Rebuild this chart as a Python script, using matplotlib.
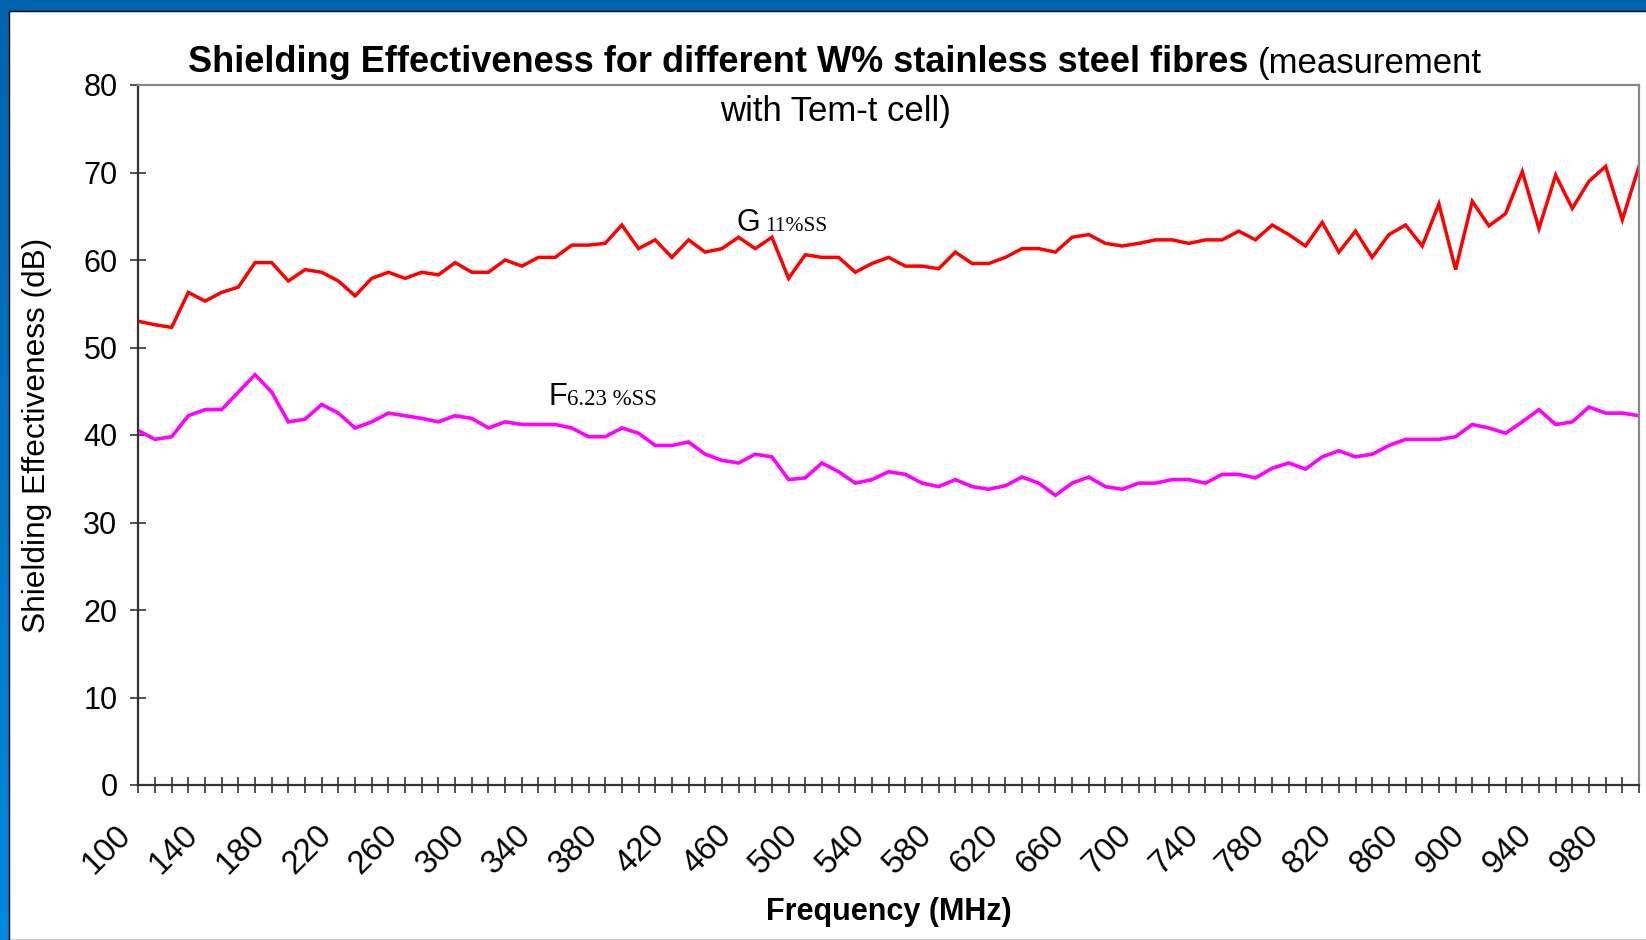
import numpy as np
import matplotlib
matplotlib.use('Agg')
import matplotlib.pyplot as plt
import matplotlib.transforms as mtransforms
from matplotlib.patches import Rectangle

plt.rcParams['font.family'] = ['Liberation Sans', 'DejaVu Sans']

W, H = 1646, 940

# frequency categories (MHz), one point every 10 MHz
freq = list(range(100, 1001, 10))

# G 11%SS
g_11 = [53.0, 52.6, 52.3, 56.3, 55.3, 56.3, 56.9, 59.7, 59.7, 57.6,
        58.9, 58.6, 57.6, 55.9, 57.9, 58.6, 57.9, 58.6, 58.3, 59.7,
        58.6, 58.6, 60.0, 59.3, 60.3, 60.3, 61.7, 61.7, 61.9, 64.0,
        61.3, 62.3, 60.3, 62.3, 60.9, 61.3, 62.6, 61.3, 62.6, 57.9,
        60.6, 60.3, 60.3, 58.6, 59.6, 60.3, 59.3, 59.3, 59.0, 60.9,
        59.6, 59.6, 60.3, 61.3, 61.3, 60.9, 62.6, 62.9, 61.9, 61.6,
        61.9, 62.3, 62.3, 61.9, 62.3, 62.3, 63.3, 62.3, 64.0, 62.9,
        61.6, 64.3, 60.9, 63.3, 60.3, 62.9, 64.0, 61.6, 66.4, 58.9,
        66.7, 63.9, 65.3, 70.1, 63.6, 69.7, 65.9, 69.0, 70.7, 64.6,
        70.7]

# F 6.23 %SS
f_623 = [40.5, 39.5, 39.8, 42.2, 42.9, 42.9, 44.9, 46.9, 44.9, 41.5,
         41.8, 43.5, 42.5, 40.8, 41.5, 42.5, 42.2, 41.9, 41.5, 42.2,
         41.9, 40.8, 41.5, 41.2, 41.2, 41.2, 40.8, 39.8, 39.8, 40.8,
         40.2, 38.8, 38.8, 39.2, 37.8, 37.1, 36.8, 37.8, 37.5, 34.9,
         35.1, 36.8, 35.8, 34.5, 34.9, 35.8, 35.5, 34.5, 34.1, 34.9,
         34.1, 33.8, 34.2, 35.2, 34.5, 33.1, 34.5, 35.2, 34.1, 33.8,
         34.5, 34.5, 34.9, 34.9, 34.5, 35.5, 35.5, 35.1, 36.2, 36.8,
         36.1, 37.5, 38.2, 37.5, 37.8, 38.8, 39.5, 39.5, 39.5, 39.8,
         41.2, 40.8, 40.2, 41.5, 42.9, 41.2, 41.5, 43.2, 42.5, 42.5,
         42.2]

y_ticks = [0, 10, 20, 30, 40, 50, 60, 70, 80]

fig = plt.figure(figsize=(W / 100, H / 100), dpi=100)

# blue slide background with a white panel
bg = fig.add_axes([0, 0, 1, 1])
grad = np.linspace(0, 1, 256).reshape(-1, 1)
cmap = matplotlib.colors.LinearSegmentedColormap.from_list('b', ['#0088e0', '#0063ad'])
bg.imshow(grad, cmap=cmap, aspect='auto', extent=[0, 1, 0, 1], origin='lower')
bg.add_patch(Rectangle((9 / W, 0), 1, (H - 11) / H, transform=bg.transAxes,
                       facecolor='white', edgecolor='black', lw=1.0))
bg.set_xlim(0, 1)
bg.set_ylim(0, 1)
bg.axis('off')

ax = fig.add_axes([138.3 / W, 1 - 785 / H, (1639 - 138.3) / W, 700 / H])
ax.set_facecolor('white')
ax.plot(freq, g_11, color='#ff0000', lw=2.5, solid_joinstyle='miter')
ax.plot(freq, f_623, color='#ff00ff', lw=2.6, solid_joinstyle='miter')

ax.set_xlim(freq[0], freq[-1])
ax.set_ylim(0, 80)
ax.set_yticks(y_ticks)
ax.set_xticks(freq)
ax.set_xticklabels([str(f) if (f - 100) % 40 == 0 else '' for f in freq])

for side in ['left', 'bottom']:
    ax.spines[side].set_color('#333333')
    ax.spines[side].set_linewidth(1.6)
for side in ['top', 'right']:
    ax.spines[side].set_color('#888888')
    ax.spines[side].set_linewidth(1.6)

ax.tick_params(axis='both', direction='inout', length=12, width=1.1, color='#222222')
ax.tick_params(axis='y', labelsize=22, pad=9)
ax.tick_params(axis='x', labelsize=23.5, pad=27)
shift = mtransforms.ScaledTranslation(-12 / 100, 0, fig.dpi_scale_trans)
for lbl in ax.get_xticklabels():
    lbl.set_rotation(45)
    lbl.set_ha('right')
    lbl.set_va('center')
    lbl.set_rotation_mode('anchor')
    lbl.set_transform(lbl.get_transform() + shift)

ax.set_ylabel('Shielding Effectiveness (dB)', fontsize=22.8)
ax.yaxis.label.set_va('center')
ax.yaxis.set_label_coords((37 - 138.3) / 1500.7, 0.5)
ax.set_xlabel('Frequency (MHz)', fontsize=22, fontweight='bold')
ax.xaxis.label.set_va('center')
ax.xaxis.set_label_coords(0.5, (785 - 912) / 700)

# series labels
ax.text(458.9, 63.3, 'G', fontsize=22, va='baseline')
ax.annotate('11%SS', xy=(458.9, 63.3), xytext=(20.5, 0), textcoords='offset points',
            fontsize=15.5, family='Liberation Serif', va='baseline')
ax.text(346.0, 43.46, 'F', fontsize=22, va='baseline')
ax.annotate('6.23 %SS', xy=(346.0, 43.46), xytext=(13.5, 0), textcoords='offset points',
            fontsize=16.5, family='Liberation Serif', va='baseline')

# title: bold part + regular part, second line centered
fig.canvas.draw()
r = fig.canvas.get_renderer()
y1 = 1 - 63 / H
t1 = fig.text(0, y1, 'Shielding Effectiveness for different W% stainless steel fibres',
              fontsize=26, fontweight='bold', va='center')
t2 = fig.text(0, y1, '(measurement', fontsize=25, va='center')
w1 = t1.get_window_extent(r).width
w2 = t2.get_window_extent(r).width
gap = 9
x0 = 835 - (w1 + gap + w2) / 2
t1.set_x(x0 / W)
t2.set_x((x0 + w1 + gap) / W)
fig.text(835 / W, 1 - 111 / H, 'with Tem-t cell)', fontsize=25, ha='center', va='center')

fig.savefig('out.png', dpi=100)
